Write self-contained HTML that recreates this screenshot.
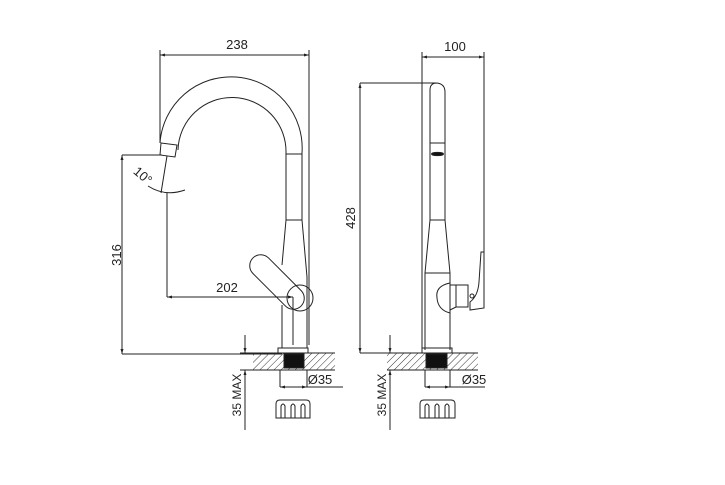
<!DOCTYPE html>
<html><head><style>body{margin:0;background:#fff}svg{display:block}text{font-family:"Liberation Sans",sans-serif;fill:#222}</style></head><body>
<svg width="725" height="485" viewBox="0 0 725 485" xmlns="http://www.w3.org/2000/svg">
<defs>
<pattern id="h" width="5" height="5" patternUnits="userSpaceOnUse" patternTransform="rotate(45)"><line x1="0" y1="0" x2="0" y2="5" stroke="#333" stroke-width="1"/></pattern>
<marker id="a" viewBox="0 0 10 10" refX="10" refY="5" markerWidth="7" markerHeight="5" orient="auto-start-reverse"><path d="M0,2 L10,5 L0,8z" fill="#222"/></marker>
</defs>
<g stroke="#222" stroke-width="1" fill="none">
<line x1="160" y1="55" x2="309" y2="55" marker-start="url(#a)" marker-end="url(#a)"/>
<line x1="160" y1="50" x2="160" y2="143"/>
<line x1="309" y1="50" x2="309" y2="345"/>
<line x1="122" y1="155" x2="162" y2="155"/>
<line x1="122" y1="155" x2="122" y2="354" marker-start="url(#a)" marker-end="url(#a)"/>
<line x1="122" y1="354" x2="282" y2="354"/>
<line x1="167" y1="193" x2="167" y2="297"/>
<line x1="167" y1="297" x2="293" y2="297" marker-start="url(#a)" marker-end="url(#a)"/>
<line x1="293" y1="297" x2="293" y2="345"/>
<path d="M160,143 A71,71 0 0 1 302,153 L302,220 L307,277 L307,345"/>
<path d="M178,150 A54,54 0 0 1 286,153 L286,220 L282,265"/>
<line x1="286" y1="154" x2="302" y2="154"/>
<line x1="286" y1="220" x2="302" y2="220"/>
<path d="M161,143 L177,145 L175,157 L160,155z"/>
<line x1="167" y1="156" x2="161" y2="193"/>
<path d="M148,186 Q165,197 185,190"/>
<rect x="243" y="271" width="68" height="22" rx="11" transform="rotate(45 277 282)"/>
<circle cx="300" cy="298" r="13"/>
<line x1="282" y1="305" x2="282" y2="348"/>
<line x1="307" y1="277" x2="307" y2="348"/>
<rect x="253" y="353" width="82" height="17" fill="url(#h)" stroke="none"/>
<line x1="253" y1="353" x2="335" y2="353"/><line x1="253" y1="370" x2="335" y2="370"/>
<rect x="278" y="348" width="30" height="5"/>
<rect x="284" y="354" width="20" height="14" fill="#111"/>
<line x1="280" y1="370" x2="280" y2="387"/><line x1="307" y1="370" x2="307" y2="387"/>
<line x1="280" y1="387" x2="343" y2="387"/>
<line x1="280" y1="387" x2="307" y2="387" marker-start="url(#a)" marker-end="url(#a)"/>
<line x1="240" y1="353" x2="253" y2="353"/>
<line x1="245" y1="335" x2="245" y2="353" marker-end="url(#a)"/>
<line x1="245" y1="370" x2="245" y2="430" marker-start="url(#a)"/>
<line x1="240" y1="370" x2="253" y2="370"/>
<path d="M276,418 L276,404 Q276,400 280,400 L306,400 Q310,400 310,404 L310,418 Z"/>
<path d="M281,418 L281,406 Q283,402 285,406 L285,418 M291,418 L291,406 Q293,402 295,406 L295,418 M301,418 L301,406 Q303,402 305,406 L305,418"/>
<line x1="422" y1="57" x2="484" y2="57" marker-start="url(#a)" marker-end="url(#a)"/>
<line x1="422" y1="52" x2="422" y2="350"/>
<line x1="484" y1="52" x2="484" y2="252"/>
<line x1="360" y1="83" x2="436" y2="83"/>
<line x1="360" y1="83" x2="360" y2="353" marker-start="url(#a)" marker-end="url(#a)"/>
<line x1="360" y1="353" x2="387" y2="353"/>
<path d="M430,220 L430,90 Q430,83 437,83 Q445,84 445,92 L445,220 L450,273 L450,350"/>
<path d="M430,220 L425,273 L425,350"/>
<line x1="430" y1="220" x2="445" y2="220"/>
<line x1="430" y1="143" x2="445" y2="143"/>
<ellipse cx="437.5" cy="154" rx="6" ry="1.6" fill="#111"/>
<line x1="425" y1="273" x2="450" y2="273"/>
<path d="M450,283 Q435,286 437,298 Q438,310 450,313"/>
<rect x="456" y="285" width="12" height="22"/>
<line x1="450" y1="285" x2="456" y2="285"/><line x1="450" y1="310" x2="456" y2="307"/>
<circle cx="472" cy="296" r="2"/>
<path d="M481,252 L484,252 L484,308 L470,310 L470,302 Q478,296 479,282 Z"/>
<rect x="387" y="353" width="91" height="17" fill="url(#h)" stroke="none"/>
<line x1="387" y1="353" x2="478" y2="353"/><line x1="387" y1="370" x2="478" y2="370"/>
<rect x="422" y="348" width="30" height="5"/>
<rect x="426" y="354" width="21" height="14" fill="#111"/>
<line x1="425" y1="370" x2="425" y2="387"/><line x1="450" y1="370" x2="450" y2="387"/>
<line x1="425" y1="387" x2="485" y2="387"/>
<line x1="425" y1="387" x2="450" y2="387" marker-start="url(#a)" marker-end="url(#a)"/>
<line x1="390" y1="335" x2="390" y2="353" marker-end="url(#a)"/>
<line x1="390" y1="370" x2="390" y2="430" marker-start="url(#a)"/>
<path d="M420,418 L420,404 Q420,400 424,400 L451,400 Q455,400 455,404 L455,418 Z"/>
<path d="M425,418 L425,406 Q427,402 429,406 L429,418 M435,418 L435,406 Q437,402 439,406 L439,418 M445,418 L445,406 Q447,402 449,406 L449,418"/>
</g>
<g font-size="13">
<text x="237" y="49" text-anchor="middle">238</text>
<text x="455" y="51" text-anchor="middle">100</text>
<text x="227" y="292" text-anchor="middle">202</text>
<text transform="translate(121,255) rotate(-90)" text-anchor="middle">316</text>
<text transform="translate(355,218) rotate(-90)" text-anchor="middle">428</text>
<text transform="translate(241,395) rotate(-90)" text-anchor="middle" font-size="12">35 MAX</text>
<text transform="translate(386,395) rotate(-90)" text-anchor="middle" font-size="12">35 MAX</text>
<text x="320" y="384" text-anchor="middle">Ø35</text>
<text x="474" y="384" text-anchor="middle">Ø35</text>
<text transform="translate(140,179) rotate(40)" text-anchor="middle">10°</text>
</g>
</svg>
</body></html>
